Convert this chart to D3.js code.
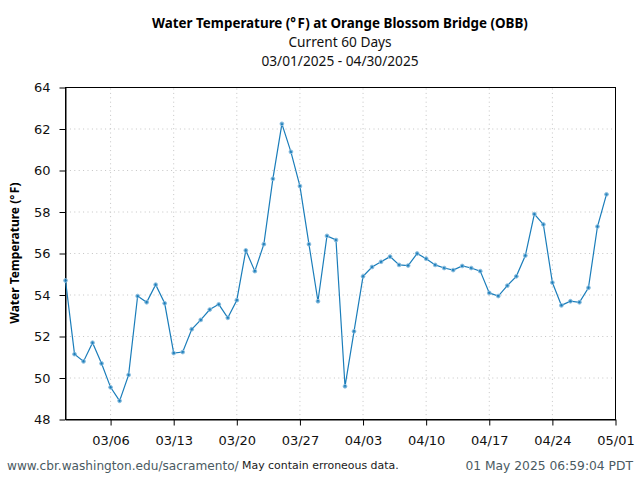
<!DOCTYPE html>
<html><head><meta charset="utf-8">
<script src="https://cdn.jsdelivr.net/npm/d3@7"></script>
<style>
html,body{margin:0;padding:0;background:#fff}
svg{display:block}
.tick text{font-family:"DejaVu Sans";font-size:13px;fill:#111}
</style></head><body>
<svg id="c" width="640" height="480"></svg>
<script>
const dates = ["2025-03-01","2025-03-02","2025-03-03","2025-03-04","2025-03-05","2025-03-06","2025-03-07","2025-03-08","2025-03-09","2025-03-10",
"2025-03-11","2025-03-12","2025-03-13","2025-03-14","2025-03-15","2025-03-16","2025-03-17","2025-03-18","2025-03-19","2025-03-20",
"2025-03-21","2025-03-22","2025-03-23","2025-03-24","2025-03-25","2025-03-26","2025-03-27","2025-03-28","2025-03-29","2025-03-30","2025-03-31",
"2025-04-01","2025-04-02","2025-04-03","2025-04-04","2025-04-05","2025-04-06","2025-04-07","2025-04-08","2025-04-09","2025-04-10",
"2025-04-11","2025-04-12","2025-04-13","2025-04-14","2025-04-15","2025-04-16","2025-04-17","2025-04-18","2025-04-19","2025-04-20",
"2025-04-21","2025-04-22","2025-04-23","2025-04-24","2025-04-25","2025-04-26","2025-04-27","2025-04-28","2025-04-29","2025-04-30"];
const temps = [54.7,51.15,50.8,51.7,50.7,49.55,48.9,50.15,53.95,53.65,
54.5,53.6,51.2,51.25,52.35,52.8,53.3,53.55,52.9,53.75,
56.15,55.15,56.45,59.6,62.25,60.9,59.25,56.45,53.7,56.85,56.65,
49.6,52.25,54.9,55.35,55.6,55.85,55.45,55.42,56.0,55.75,
55.45,55.3,55.2,55.4,55.3,55.15,54.1,53.95,54.45,54.9,
55.9,57.9,57.4,54.6,53.5,53.7,53.65,54.35,57.3,58.85];
const xTicks = ["2025-03-06","2025-03-13","2025-03-20","2025-03-27","2025-04-03","2025-04-10","2025-04-17","2025-04-24","2025-05-01"];
const yTicks = [48,50,52,54,56,58,60,62,64];
const xDomain = ["2025-03-01","2025-05-01"];
const titleLines = ["Water Temperature (°F) at Orange Blossom Bridge (OBB)","Current 60 Days","03/01/2025 - 04/30/2025"];
const yLabel = "Water Temperature (°F)";
const footLeft = "www.cbr.washington.edu/sacramento/";
const footMid = "May contain erroneous data.";
const footRight = "01 May 2025 06:59:04 PDT";

const parse = d3.utcParse("%Y-%m-%d");
const fmt = d3.utcFormat("%m/%d");
const svg = d3.select("#c");
const L=65.5,R=615.5,T=87.5,B=419.5;
const x = d3.scaleUtc().domain(xDomain.map(parse)).range([L,R]);
const y = d3.scaleLinear().domain([48,64]).range([B,T]);
const grid = svg.append("g").attr("stroke","#c4c4c4").attr("stroke-width",1).attr("stroke-dasharray","1,3.4");
grid.selectAll(".gx").data(xTicks.slice(0,-1).map(parse)).join("line")
  .attr("x1",d=>x(d)).attr("x2",d=>x(d)).attr("y1",B).attr("y2",T);
grid.selectAll(".gy").data(yTicks.slice(1,-1)).join("line")
  .attr("x1",L).attr("x2",R).attr("y1",d=>y(d)).attr("y2",d=>y(d));

const ax = svg.append("g").attr("transform",`translate(0,${B})`)
  .call(d3.axisBottom(x).tickValues(xTicks.map(parse)).tickFormat(fmt).tickSize(6).tickSizeOuter(0));
ax.selectAll("text").attr("dy",null).attr("y",25);
const ay = svg.append("g").attr("transform",`translate(${L},0)`)
  .call(d3.axisLeft(y).tickValues(yTicks).tickSize(6).tickSizeOuter(0));
ay.selectAll("text").attr("x",-15);
svg.selectAll(".domain").attr("stroke","#000");
svg.selectAll(".tick line").attr("stroke","#000");
svg.append("rect").attr("x",L).attr("y",T).attr("width",R-L).attr("height",B-T)
  .attr("fill","none").attr("stroke","#000");

const pts = dates.map((d,i)=>({d:parse(d),v:temps[i]}));
const line = d3.line().x(p=>x(p.d)).y(p=>y(p.v));
svg.append("path").datum(pts).attr("d",line).attr("fill","none").attr("stroke","#1a7dba").attr("stroke-width",1.2);
svg.append("g").selectAll("circle").data(pts).join("circle")
  .attr("cx",p=>x(p.d)).attr("cy",p=>y(p.v)).attr("r",1.9)
  .attr("fill","#1a7dba").attr("fill-opacity",0.8).attr("stroke","#8fc0e0").attr("stroke-width",0.9);

// degree sign sits apart from the F, as in the reference
function degreeText(sel, s){
  const [a,b] = s.split("°");
  sel.append("tspan").text(a+"°");
  sel.append("tspan").attr("dx",1.5).text(b);
}
const tf = '"Noto Sans"';
svg.append("text").attr("x",340).attr("y",28).attr("text-anchor","middle")
  .attr("font-family",tf).attr("font-weight","bold").attr("font-size",13.4).attr("fill","#000").call(degreeText,titleLines[0]);
svg.append("text").attr("x",340).attr("y",47).attr("text-anchor","middle")
  .attr("font-family",tf).attr("font-size",13.7).attr("fill","#111").text(titleLines[1]);
svg.append("text").attr("x",340).attr("y",66).attr("text-anchor","middle")
  .attr("font-family",tf).attr("font-size",13.7).attr("fill","#111").text(titleLines[2]);
svg.append("text").attr("transform","translate(19,253) rotate(-90)").attr("text-anchor","middle")
  .attr("font-family","Noto Sans").attr("font-weight","bold").attr("font-size",12).attr("fill","#000").call(degreeText,yLabel);
svg.append("text").attr("x",7).attr("y",470).attr("font-family","DejaVu Sans").attr("font-size",12.15).attr("fill","#4a5a62").text(footLeft);
svg.append("text").attr("x",242).attr("y",469).attr("font-family","DejaVu Sans").attr("font-size",10.95).attr("fill","#1a1a1a").text(footMid);
svg.append("text").attr("x",633).attr("y",470).attr("text-anchor","end").attr("font-family","DejaVu Sans").attr("font-size",12.3).attr("fill","#4a5a62").text(footRight);
</script></body></html>
